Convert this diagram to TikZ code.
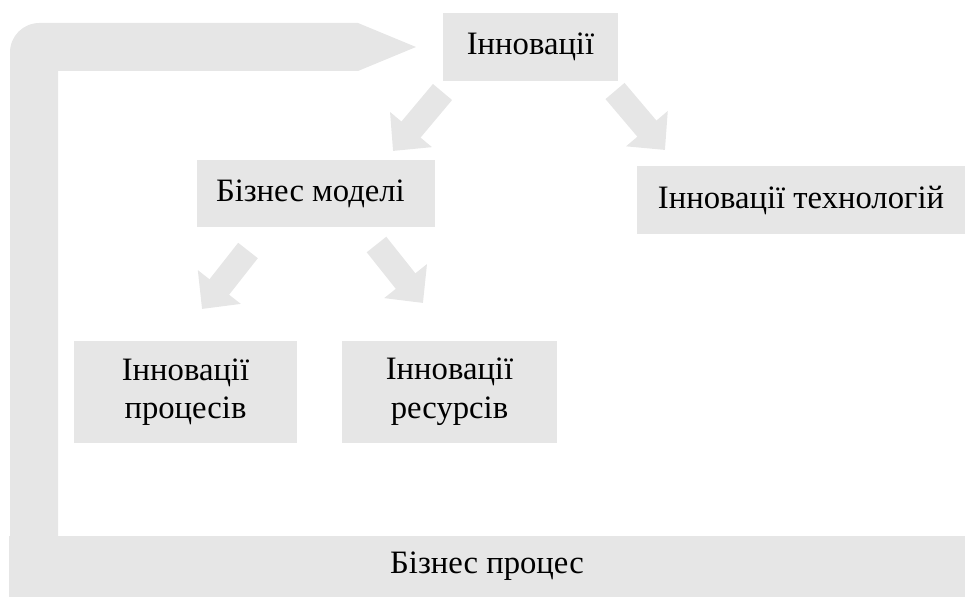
\documentclass[tikz,border=0pt]{standalone}
\usepackage{fontspec}
\setmainfont{Liberation Serif}
\usetikzlibrary{arrows.meta}
\definecolor{boxgray}{RGB}{230,230,230}

\begin{document}
\begin{tikzpicture}[x=0.75pt,y=-0.75pt]
	\tikzstyle{every node}+=[inner sep=0pt]
	\tikzstyle{box}=[fill=boxgray, font=\fontsize{24.5}{29}\selectfont, align=center]
	\tikzstyle{blockarrow}=[draw=boxgray, line width=18.75pt, -{Triangle[width=39.75pt,length=21pt]}]
	\useasboundingbox (0,0) rectangle (965,598);
	\fill [boxgray] (10,540) [rounded corners=22pt] -- (10,23) -- (200,23) [sharp corners] -- (358,23) -- (416,47) -- (358,71) -- (58,71) -- (58,540) -- cycle;
	\node [box, minimum width=131.25pt, minimum height=51pt] (innov) at (530.5,47) {Інновації};
	\node [box, align=flush left, text width=150pt, inner xsep=14.25pt, minimum height=50.25pt] (models) at (316,193.5) {Бізнес моделі};
	\node [box, minimum width=246pt, minimum height=51pt] (tech) at (801,200) {Інновації технологій};
	\node [box, minimum width=167.25pt, minimum height=76.5pt] (procs) at (185.5,392) {Інновації\\процесів};
	\node [box, minimum width=161.25pt, minimum height=76.5pt] (res) at (449.5,392) {Інновації\\ресурсів};
	\node [box, minimum width=717pt, minimum height=45.75pt] (bproc) at (487,566.5) {Бізнес процес};
	\coordinate (a1s) at (442.5,92);
	\coordinate (a1e) at (393,151);
	\coordinate (a2s) at (615,91);
	\coordinate (a2e) at (665,150);
	\coordinate (a3s) at (248,250.5);
	\coordinate (a3e) at (202,309);
	\coordinate (a4s) at (376.5,244.5);
	\coordinate (a4e) at (423,303);
	\draw [blockarrow] (a1s) -- (a1e);
	\draw [blockarrow] (a2s) -- (a2e);
	\draw [blockarrow] (a3s) -- (a3e);
	\draw [blockarrow] (a4s) -- (a4e);
\end{tikzpicture}
\end{document}
